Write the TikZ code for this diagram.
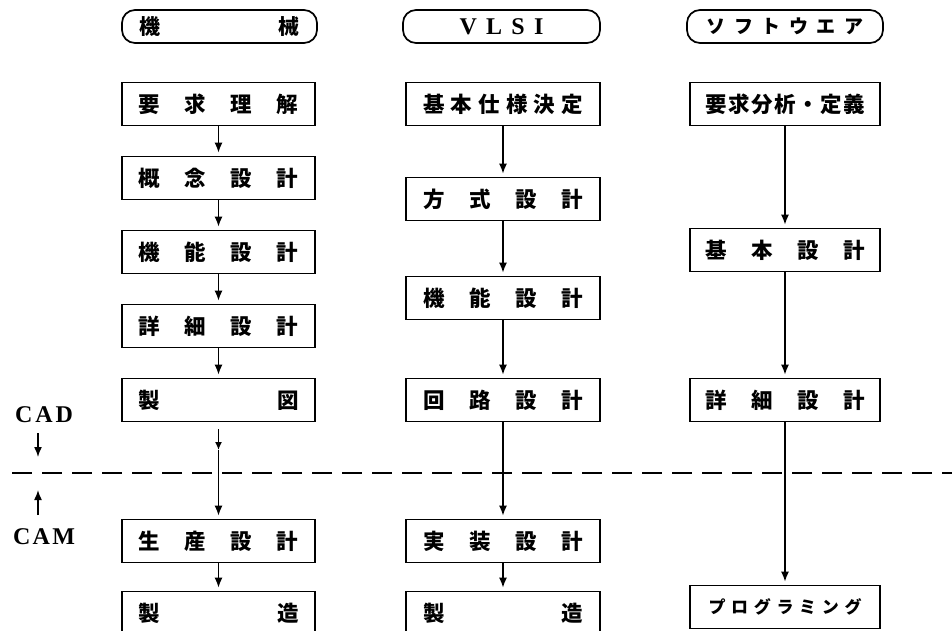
\documentclass[tikz,border=0pt]{standalone}
\usepackage{fontspec}
\setmainfont{Liberation Serif}
\newfontfamily\jp{Noto Sans CJK JP}
\usetikzlibrary{arrows.meta}
\newcommand{\spr}[2]{\makebox[#1pt][s]{#2}}
\begin{document}
\begin{tikzpicture}[x=1pt,y=-1pt,
  box/.style={draw, line width=1.7pt, minimum height=43pt, inner sep=0pt,
    font=\jp\bfseries\fontsize{21.5}{24}\selectfont},
  lbox/.style={box, minimum width=193pt},
  vbox/.style={box, minimum width=194pt},
  sbox/.style={box, minimum width=190pt},
  hdr/.style={draw, line width=1.7pt, rounded corners=13pt, minimum height=33pt, inner sep=0pt},
  tip/.style={-{Latex[length=10pt,width=8pt]}},
  arr/.style={line width=1.5pt, tip, shorten >=3pt},
  side/.style={font=\bfseries\fontsize{24}{26}\selectfont},
  cut/.style={line width=1.7pt, dash pattern=on 20pt off 10pt}]
\clip (0,0) rectangle (952,630);
\fill[white] (0,0) rectangle (952,630);
% headers
\node[hdr, minimum width=195pt] (h1) at (219.5,26.5) {\jp\bfseries\fontsize{21}{24}\selectfont\spr{160}{機\hfill 械}};
\node[hdr, minimum width=197pt] (h2) at (501.5,26.5) {\bfseries\fontsize{24}{26}\selectfont\spr{84}{V\hfill L\hfill S\hfill I}};
\node[hdr, minimum width=196pt] (h3) at (785,26.5) {\jp\bfseries\fontsize{19}{24}\selectfont\spr{157}{ソ\hfill フ\hfill ト\hfill ウ\hfill エ\hfill ア}};
% mechanical
\node[lbox] (m1) at (218.5,104) {\spr{160}{要\hfill 求\hfill 理\hfill 解}};
\node[lbox] (m2) at (218.5,178) {\spr{160}{概\hfill 念\hfill 設\hfill 計}};
\node[lbox] (m3) at (218.5,252) {\spr{160}{機\hfill 能\hfill 設\hfill 計}};
\node[lbox] (m4) at (218.5,326) {\spr{160}{詳\hfill 細\hfill 設\hfill 計}};
\node[lbox] (m5) at (218.5,400) {\spr{160}{製\hfill 図}};
\node[lbox] (m6) at (218.5,541) {\spr{160}{生\hfill 産\hfill 設\hfill 計}};
\node[lbox] (m7) at (218.5,613) {\spr{160}{製\hfill 造}};
% VLSI
\node[vbox] (v1) at (503,104) {\spr{160}{基\hfill 本\hfill 仕\hfill 様\hfill 決\hfill 定}};
\node[vbox] (v2) at (503,199) {\spr{160}{方\hfill 式\hfill 設\hfill 計}};
\node[vbox] (v3) at (503,298) {\spr{160}{機\hfill 能\hfill 設\hfill 計}};
\node[vbox] (v4) at (503,400) {\spr{160}{回\hfill 路\hfill 設\hfill 計}};
\node[vbox] (v5) at (503,541) {\spr{160}{実\hfill 装\hfill 設\hfill 計}};
\node[vbox] (v6) at (503,613) {\spr{160}{製\hfill 造}};
% software
\node[sbox] (s1) at (785,104) {\spr{160}{要\hfill 求\hfill 分\hfill 析\hfill ・\hfill 定\hfill 義}};
\node[sbox] (s2) at (785,250) {\spr{160}{基\hfill 本\hfill 設\hfill 計}};
\node[sbox] (s3) at (785,400) {\spr{160}{詳\hfill 細\hfill 設\hfill 計}};
\node[sbox, font=\jp\bfseries\fontsize{17}{24}\selectfont] (s4) at (785,607) {\spr{153}{プ\hfill ロ\hfill グ\hfill ラ\hfill ミ\hfill ン\hfill グ}};
% dashed boundary
\coordinate (dl) at (12,473);
\coordinate (dr) at (952,473);
\draw[cut] (dl) -- (dr);
% CAD / CAM
\node[side] (cad) at (44,415) {\spr{58}{C\hfill A\hfill D}};
\node[side] (cam) at (44,537) {\spr{62}{C\hfill A\hfill M}};
\coordinate (cadA) at (38,433);
\coordinate (cadB) at (38,457);
\coordinate (camA) at (38,515);
\coordinate (camB) at (38,490);
\draw[line width=1.5pt, tip] (cadA) -- (cadB);
\draw[line width=1.5pt, tip] (camA) -- (camB);
% arrows
\draw[arr] (m1) -- (m2);
\draw[arr] (m2) -- (m3);
\draw[arr] (m3) -- (m4);
\draw[arr] (m4) -- (m5);
\coordinate (mm) at (218.5,450);
\draw[line width=1.5pt, -{Latex[length=8pt,width=7pt]}] ([yshift=-7pt]m5.south) -- (mm);
\draw[arr] (mm) -- (m6.north);
\draw[arr] (m6) -- (m7);
\draw[arr] (v1) -- (v2);
\draw[arr] (v2) -- (v3);
\draw[arr] (v3) -- (v4);
\draw[arr] (v4) -- (v5);
\draw[arr] (v5) -- (v6);
\draw[arr] (s1) -- (s2);
\draw[arr] (s2) -- (s3);
\draw[arr] (s3) -- (s4);
\end{tikzpicture}
\end{document}
